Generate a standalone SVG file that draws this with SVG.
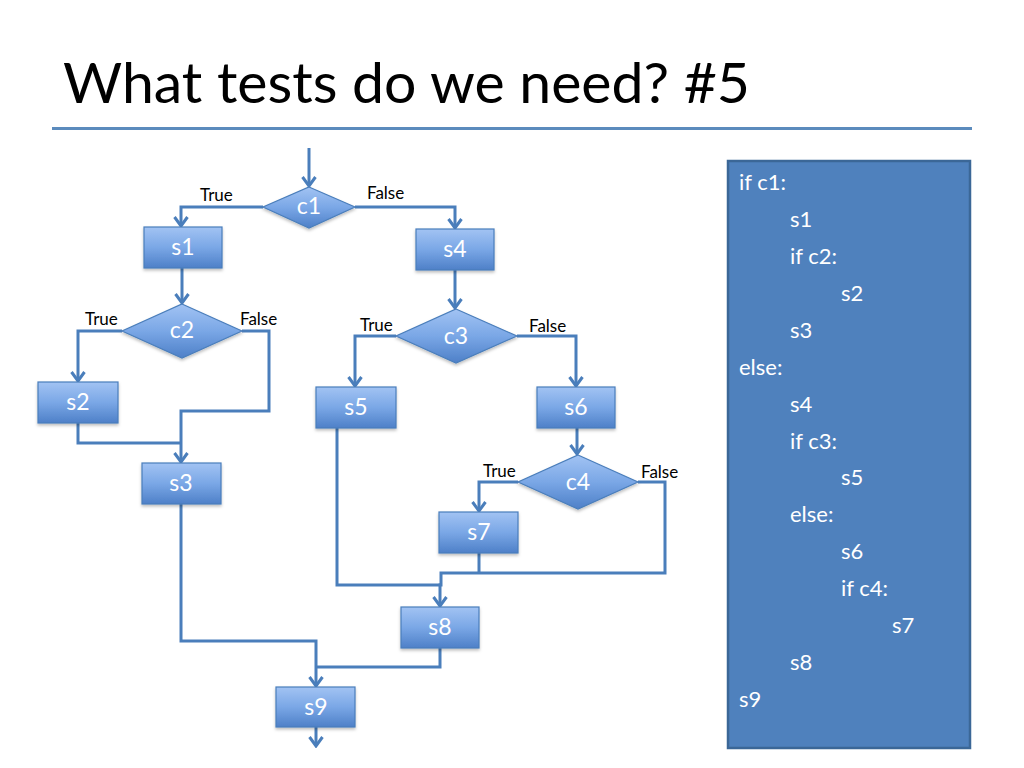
<svg xmlns="http://www.w3.org/2000/svg" width="1024" height="768" viewBox="0 0 1024 768">
<defs>
<linearGradient id="ng" x1="0" y1="0" x2="0" y2="1">
<stop offset="0" stop-color="#a2c3f3"/>
<stop offset="0.5" stop-color="#7aa7e6"/>
<stop offset="1" stop-color="#4e80c8"/>
</linearGradient>
<filter id="sh" x="-10%" y="-10%" width="130%" height="140%">
<feDropShadow dx="0" dy="2" stdDeviation="1.5" flood-color="#000000" flood-opacity="0.25"/>
</filter>
<marker id="arr" viewBox="-12 -9 14 18" refX="0" refY="0" markerWidth="14" markerHeight="18" markerUnits="userSpaceOnUse" orient="auto">
<path d="M-9,-6.5 L0,0 L-9,6.5" fill="none" stroke="#4a7ebb" stroke-width="3"/>
</marker>
<style>
.node{fill:url(#ng);stroke:#4a7ebb;stroke-width:1.2;filter:url(#sh)}
.nt{font-family:Lato,"Open Sans","Liberation Sans",sans-serif;font-size:23px;fill:#ffffff;text-anchor:middle}
.lbl{font-family:Lato,"Open Sans","Liberation Sans",sans-serif;font-size:17px;fill:#000000}
.code{font-family:Lato,"Open Sans","Liberation Sans",sans-serif;font-size:22px;fill:#ffffff}
.conn path{fill:none;stroke:#4a7ebb;stroke-width:3;stroke-linejoin:miter}
</style>
</defs>
<rect width="1024" height="768" fill="#ffffff"/>
<text x="63" y="103" font-family="Lato,'Open Sans','Liberation Sans',sans-serif" font-size="57" fill="#000000" textLength="687" lengthAdjust="spacingAndGlyphs">What tests do we need? #5</text>
<line x1="52" y1="128.5" x2="972" y2="128.5" stroke="#5b8bbd" stroke-width="3"/>

<g id="connectors" class="conn">
<path d="M309,148 L309,186" marker-end="url(#arr)"/>
<path d="M263,207 L181,207 L181,226" marker-end="url(#arr)"/>
<path d="M355,207 L455,207 L455,228" marker-end="url(#arr)"/>
<path d="M182,268 L182,303" marker-end="url(#arr)"/>
<path d="M122,331 L78,331 L78,381" marker-end="url(#arr)"/>
<path d="M242,331 L269,331 L269,411 L181,411 L181,462" marker-end="url(#arr)"/>
<path d="M78,423 L78,443 L181,443"/>
<path d="M455,270 L455,308" marker-end="url(#arr)"/>
<path d="M396,336 L355,336 L355,386" marker-end="url(#arr)"/>
<path d="M517,336 L576,336 L576,386" marker-end="url(#arr)"/>
<path d="M577,428 L577,454" marker-end="url(#arr)"/>
<path d="M518,482 L479,482 L479,511" marker-end="url(#arr)"/>
<path d="M638,482 L665,482 L665,573 L441,573 L441,585 L440,585 L440,606" marker-end="url(#arr)"/>
<path d="M479,553 L479,573"/>
<path d="M337,428 L337,585 L440,585"/>
<path d="M181,504 L181,641 L316,641 L316,686" marker-end="url(#arr)"/>
<path d="M440,648 L440,667 L316,667"/>
<path d="M316,727 L316,746" marker-end="url(#arr)"/>
</g>

<g id="c1"><polygon class="node" points="309,187 355,207 309,228 263,207"/><text class="nt" x="309" y="214">c1</text></g>
<g id="s1"><rect class="node" x="144" y="227" width="78" height="41"/><text class="nt" x="183" y="255">s1</text></g>
<g id="s4"><rect class="node" x="416" y="229" width="78" height="41"/><text class="nt" x="455" y="257">s4</text></g>
<g id="c2"><polygon class="node" points="182,304 242,331 182,358 122,331"/><text class="nt" x="182" y="338">c2</text></g>
<g id="s2"><rect class="node" x="38" y="382" width="80" height="41"/><text class="nt" x="78" y="410">s2</text></g>
<g id="s3"><rect class="node" x="142" y="463" width="79" height="41"/><text class="nt" x="181" y="491">s3</text></g>
<g id="c3"><polygon class="node" points="456,309 517,336 456,363 396,336"/><text class="nt" x="456" y="344">c3</text></g>
<g id="s5"><rect class="node" x="316" y="387" width="80" height="41"/><text class="nt" x="356" y="415">s5</text></g>
<g id="s6"><rect class="node" x="537" y="387" width="78" height="41"/><text class="nt" x="576" y="415">s6</text></g>
<g id="c4"><polygon class="node" points="578,455 638,482 578,509 518,482"/><text class="nt" x="578" y="490">c4</text></g>
<g id="s7"><rect class="node" x="439" y="512" width="79" height="41"/><text class="nt" x="479" y="540">s7</text></g>
<g id="s8"><rect class="node" x="401" y="607" width="78" height="41"/><text class="nt" x="440" y="635">s8</text></g>
<g id="s9"><rect class="node" x="276" y="687" width="79" height="40"/><text class="nt" x="316" y="715">s9</text></g>

<g id="labels">
<text class="lbl" x="200" y="201">True</text>
<text class="lbl" x="367" y="199">False</text>
<text class="lbl" x="85" y="325">True</text>
<text class="lbl" x="240" y="325">False</text>
<text class="lbl" x="360" y="331">True</text>
<text class="lbl" x="529" y="332">False</text>
<text class="lbl" x="483" y="477">True</text>
<text class="lbl" x="641" y="478">False</text>
</g>

<g id="code">
<rect x="728" y="161" width="242" height="587" fill="#4f81bd" stroke="#3b6797" stroke-width="2.5"/>
<text class="code" x="739" y="190">if c1:</text>
<text class="code" x="790" y="227">s1</text>
<text class="code" x="790" y="264">if c2:</text>
<text class="code" x="841" y="301">s2</text>
<text class="code" x="790" y="338">s3</text>
<text class="code" x="739" y="375">else:</text>
<text class="code" x="790" y="412">s4</text>
<text class="code" x="790" y="449">if c3:</text>
<text class="code" x="841" y="485">s5</text>
<text class="code" x="790" y="522">else:</text>
<text class="code" x="841" y="559">s6</text>
<text class="code" x="841" y="596">if c4:</text>
<text class="code" x="892" y="633">s7</text>
<text class="code" x="790" y="670">s8</text>
<text class="code" x="739" y="707">s9</text>
</g>
</svg>
